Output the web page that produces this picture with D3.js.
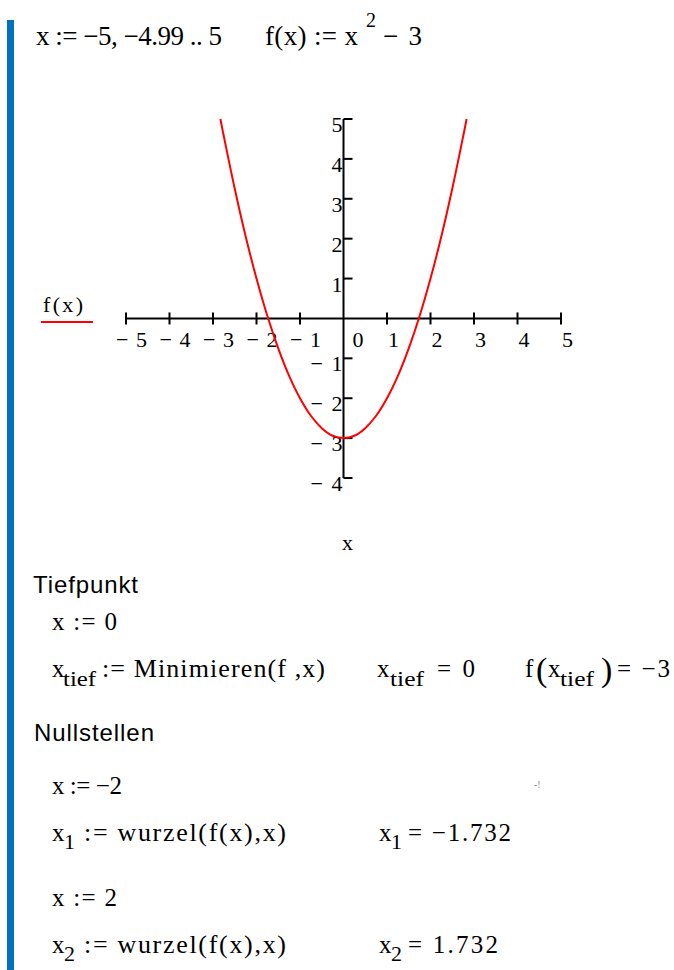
<!DOCTYPE html>
<html><head><meta charset="utf-8">
<script src="https://cdn.jsdelivr.net/npm/d3@7"></script>
<style>html,body{margin:0;padding:0;background:#fff;overflow:hidden}</style>
</head><body><svg id="c" width="674" height="970"></svg>
<script>
// ---- data ----
const curveX = [-2.83,-2.75,-2.5,-2.25,-2,-1.75,-1.5,-1.25,-1,-0.75,-0.5,-0.25,0,0.25,0.5,0.75,1,1.25,1.5,1.75,2,2.25,2.5,2.75,2.83];
const curveY = [5,4.56,3.25,2.06,1,0.06,-0.75,-1.44,-2,-2.44,-2.75,-2.94,-3,-2.94,-2.75,-2.44,-2,-1.44,-0.75,0.06,1,2.06,3.25,4.56,5];
const xTicks = [-5,-4,-3,-2,-1,0,1,2,3,4,5];
const xTickLabels = ["− 5","− 4","− 3","− 2","− 1","0","1","2","3","4","5"];
const yTicks = [-4,-3,-2,-1,1,2,3,4,5];
const yTickLabels = ["− 4","− 3","− 2","− 1","1","2","3","4","5"];
const xDomain = [-5,5];
const yDomain = [-4,5];
const legendLabel = "f(x)";
const axisTitle = "x";

const svg = d3.select("#c");
const SERIF = "'Liberation Serif','Times New Roman',serif";
const SANS = "'Liberation Sans',Arial,sans-serif";

function t(str, x, y, size, o = {}) {
  const el = svg.append("text").attr("x", x).attr("y", y)
    .attr("font-size", size).attr("font-family", o.sans ? SANS : SERIF)
    .attr("fill", o.fill || "#000").text(str);
  if (o.w) el.attr("textLength", o.w).attr("lengthAdjust", o.glyphs ? "spacingAndGlyphs" : "spacing");
  if (o.anchor) el.attr("text-anchor", o.anchor);
  return el;
}

// left blue bar
svg.append("rect").attr("x", 7).attr("y", 20).attr("width", 7).attr("height", 950).attr("fill", "#0070c0");

// ---- chart ----
const x = d3.scaleLinear().domain(xDomain).range([126, 561]);
const y = d3.scaleLinear().domain(yDomain).range([478, 119]);
const x0 = x(0), y0 = y(0);

svg.append("line").attr("x1", x(xDomain[0])).attr("x2", x(xDomain[1])).attr("y1", y0).attr("y2", y0)
  .attr("stroke", "#000").attr("stroke-width", 2);
svg.append("line").attr("x1", x0).attr("x2", x0).attr("y1", y(yDomain[0])).attr("y2", y(yDomain[1]))
  .attr("stroke", "#000").attr("stroke-width", 2);

svg.selectAll(".xt").data(xTicks.filter(d => d !== 0)).enter().append("line")
  .attr("x1", d => x(d)).attr("x2", d => x(d)).attr("y1", y0 - 6).attr("y2", y0 + 6)
  .attr("stroke", "#000").attr("stroke-width", 2);
svg.selectAll(".yt").data(yTicks).enter().append("line")
  .attr("x1", x0).attr("x2", x0 + 9).attr("y1", d => y(d)).attr("y2", d => y(d))
  .attr("stroke", "#000").attr("stroke-width", 2);

xTicks.forEach((d, i) => {
  const px = d < 0 ? x(d) - 10 : (d === 0 ? x(d) + 9 : x(d) + 1);
  t(xTickLabels[i], px, y0 + 29, 22, d < 0 ? { w: 31 } : {});
});
yTicks.forEach((d, i) => {
  const el = t(yTickLabels[i], x0 - 1, y(d) + 13, 22, { anchor: "end" });
  if (d < 0) el.attr("textLength", 32).attr("lengthAdjust", "spacing");
});

const pts = curveX.map((v, i) => [v, curveY[i]]);
svg.append("path").datum(pts)
  .attr("d", d3.line().x(d => x(d[0])).y(d => y(d[1])).curve(d3.curveCatmullRom))
  .attr("fill", "none").attr("stroke", "#ff0000").attr("stroke-width", 2);

t(legendLabel, 43, 312, 22, { w: 40 });
svg.append("line").attr("x1", 41).attr("x2", 93).attr("y1", 322).attr("y2", 322)
  .attr("stroke", "#ff0000").attr("stroke-width", 2);

t(axisTitle, 342, 550, 22);

// ---- math text ----
t("x := −5, −4.99 .. 5", 36, 45, 27, { w: 186 });
t("f(x) := x", 265, 45, 27, { w: 93 });
t("2", 366, 27, 20);
t("− 3", 383, 45, 27, { w: 39 });

t("Tiefpunkt", 33, 593, 24, { sans: true, w: 105 });
t("x := 0", 52, 630, 25, { w: 65 });

t("x", 52, 677, 25);
t("tief", 63, 686, 22, { w: 33, glyphs: true });
t(":= Minimieren(f ,x)", 102, 677, 26, { w: 223 });
t("x", 377, 677, 25);
t("tief", 390, 686, 22, { w: 34, glyphs: true });
t("= 0", 437, 677, 25, { w: 38 });
t("f", 525, 677, 25);
t("(", 536, 681, 34);
t("x", 548, 677, 25);
t("tief", 560, 686, 22, { w: 34, glyphs: true });
t(")", 601, 681, 34);
t("= −3", 617, 677, 25, { w: 53 });

t("Nullstellen", 34, 741, 24, { sans: true, w: 120 });
t("x := −2", 52, 794, 25, { w: 70 });
t("-!", 534, 788, 10, { fill: "#888" });

t("x", 52, 841, 25);
t("1", 64, 849, 22);
t(":= wurzel(f(x),x)", 84, 841, 26, { w: 202 });
t("x", 379, 841, 25);
t("1", 391, 849, 22);
t("= −1.732", 408, 841, 25, { w: 103 });

t("x := 2", 52, 906, 25, { w: 65 });
t("x", 52, 953, 25);
t("2", 64, 961, 22);
t(":= wurzel(f(x),x)", 84, 953, 26, { w: 202 });
t("x", 379, 953, 25);
t("2", 391, 961, 22);
t("= 1.732", 408, 953, 25, { w: 90 });
</script>
</body></html>
